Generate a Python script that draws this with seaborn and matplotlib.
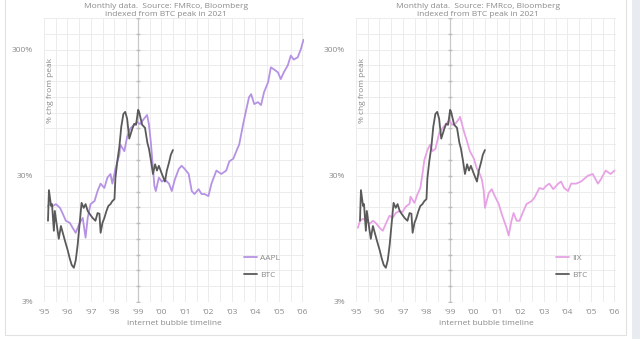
import numpy as np
import pandas as pd
import matplotlib
matplotlib.use("Agg")
import matplotlib.pyplot as plt
import seaborn as sns
from matplotlib.patches import Rectangle

# ---------------- data ----------------
btc_year = [1995.17, 1995.21, 1995.30, 1995.34, 1995.42, 1995.46, 1995.55, 1995.63, 1995.72, 1995.80,
            1995.89, 1996.01, 1996.10, 1996.18, 1996.27, 1996.35, 1996.43, 1996.52, 1996.60, 1996.69,
            1996.77, 1996.86, 1996.94, 1997.07, 1997.19, 1997.28, 1997.36, 1997.41, 1997.49, 1997.57,
            1997.66, 1997.74, 1997.83, 1997.91, 1998.00, 1998.04, 1998.12, 1998.21, 1998.29, 1998.38,
            1998.46, 1998.54, 1998.63, 1998.76, 1998.84, 1998.92, 1999.01, 1999.05, 1999.18, 1999.30,
            1999.40, 1999.47, 1999.55, 1999.64, 1999.73, 1999.81, 1999.89, 2000.02, 2000.15, 2000.23,
            2000.32, 2000.40, 2000.49]
btc_val = [13.2, 23.1, 17.3, 17.9, 11.0, 15.8, 12.0, 9.5, 12.0, 10.6,
           9.2, 7.7, 6.6, 5.9, 5.6, 6.4, 8.4, 12.7, 18.3, 16.7,
           17.9, 15.8, 15.0, 13.9, 13.2, 15.2, 15.0, 10.6, 12.7, 13.9,
           15.8, 17.3, 17.9, 18.9, 19.6, 28.7, 39.0, 51.1, 73.3, 92.7,
           96.2, 84.7, 59.1, 70.7, 77.4, 76.0, 100.0, 96.0, 76.0, 72.0,
           55.0, 49.0, 40.0, 31.0, 37.0, 33.0, 36.0, 31.0, 27.0, 33.0,
           38.0, 44.0, 48.0]

aapl_year = [1995.17, 1995.25, 1995.38, 1995.51, 1995.68, 1995.80, 1995.93, 1996.10, 1996.22, 1996.35,
             1996.52, 1996.65, 1996.77, 1996.86, 1996.98, 1997.15, 1997.28, 1997.41, 1997.57, 1997.70,
             1997.83, 1997.91, 1998.04, 1998.21, 1998.25, 1998.42, 1998.54, 1998.67, 1998.84, 1998.97,
             1999.09, 1999.26, 1999.39, 1999.47, 1999.55, 1999.62, 1999.70, 1999.76, 1999.89, 2000.02,
             2000.15, 2000.32, 2000.44, 2000.57, 2000.74, 2000.86, 2000.99, 2001.16, 2001.29, 2001.41,
             2001.58, 2001.71, 2001.84, 2002.00, 2002.13, 2002.34, 2002.55, 2002.76, 2002.89, 2003.06,
             2003.19, 2003.31, 2003.48, 2003.61, 2003.73, 2003.82, 2003.95, 2004.11, 2004.24, 2004.37,
             2004.54, 2004.66, 2004.79, 2004.96, 2005.08, 2005.21, 2005.38, 2005.51, 2005.63, 2005.80,
             2005.93, 2006.05]
aapl_val = [17.3, 17.9, 17.3, 17.9, 16.7, 15.0, 13.2, 12.7, 11.6, 10.6,
            12.7, 13.9, 9.7, 13.9, 17.9, 18.9, 22.7, 26.0, 24.0, 29.0,
            31.0, 26.0, 34.0, 44.0, 53.0, 47.0, 61.0, 71.0, 76.0, 80.0,
            77.0, 85.0, 91.0, 76.0, 55.0, 38.0, 25.0, 22.7, 29.0, 27.0,
            28.0, 26.0, 22.7, 28.0, 34.0, 36.0, 34.0, 31.0, 22.7, 21.5,
            23.5, 21.5, 21.5, 20.7, 26.0, 33.0, 31.0, 33.0, 39.0, 41.0,
            47.0, 53.0, 77.0, 100.0, 126.0, 133.0, 111.0, 115.0, 109.0, 138.0,
            165.0, 217.0, 209.0, 198.0, 175.0, 198.0, 225.0, 269.0, 250.0, 260.0,
            300.0, 359.0]

iix_year = [1995.08, 1995.17, 1995.30, 1995.42, 1995.59, 1995.72, 1995.84, 1996.01, 1996.14, 1996.27,
            1996.43, 1996.56, 1996.69, 1996.86, 1996.98, 1997.11, 1997.28, 1997.32, 1997.49, 1997.62,
            1997.74, 1997.83, 1997.91, 1998.04, 1998.16, 1998.25, 1998.38, 1998.54, 1998.67, 1998.80,
            1998.97, 1999.09, 1999.22, 1999.39, 1999.43, 1999.60, 1999.73, 1999.85, 2000.02, 2000.15,
            2000.27, 2000.36, 2000.44, 2000.49, 2000.65, 2000.78, 2000.91, 2001.08, 2001.20, 2001.41,
            2001.50, 2001.62, 2001.71, 2001.84, 2001.96, 2002.13, 2002.26, 2002.47, 2002.59, 2002.81,
            2002.97, 2003.10, 2003.23, 2003.40, 2003.61, 2003.73, 2003.86, 2004.03, 2004.16, 2004.37,
            2004.58, 2004.87, 2005.08, 2005.30, 2005.42, 2005.63, 2005.84, 2006.01]
iix_val = [11.6, 13.2, 13.7, 13.2, 12.5, 13.2, 12.7, 11.6, 11.0, 12.5,
           14.5, 13.9, 15.2, 15.8, 15.5, 17.0, 18.0, 20.5, 18.3, 21.5,
           24.0, 31.0, 40.0, 48.0, 53.0, 47.0, 49.0, 65.0, 71.0, 76.0,
           83.0, 76.0, 77.0, 85.0, 88.0, 67.0, 56.0, 47.0, 41.0, 34.0,
           31.0, 28.0, 22.7, 16.7, 21.9, 23.5, 20.7, 17.9, 15.0, 11.6,
           10.1, 13.2, 15.2, 13.2, 13.2, 15.8, 17.9, 18.9, 20.0, 24.0,
           23.5, 25.0, 26.0, 23.5, 26.0, 27.0, 24.0, 22.7, 26.0, 26.0,
           27.0, 30.0, 31.0, 26.0, 28.0, 33.0, 31.0, 33.0]

year_ticks = list(range(1995, 2007))
year_labels = ["'95", "'96", "'97", "'98", "'99", "'00", "'01", "'02", "'03", "'04", "'05", "'06"]
y_ticks = [3, 30, 300]
y_labels = ["3%", "30%", "300%"]

title_text = "Monthly data.  Source: FMRco, Bloomberg\nindexed from BTC peak in 2021"
xlabel_text = "internet bubble timeline"
ylabel_text = "% chg from peak"

# ---------------- style ----------------
sns.set_theme(style="white")
plt.rcParams["font.family"] = ["Open Sans", "DejaVu Sans"]
TXT = "#8a8a8a"
GRID = "#ececec"
colors = {"AAPL": "#b592e3", "IIX": "#e7a2e6", "BTC": "#5a5a5a"}

W, H = 640, 339
fig = plt.figure(figsize=(W / 100, H / 100), dpi=100)
fig.patch.set_facecolor("white")

# page decorations (frame + side strip)
fig.add_artist(Rectangle((5 / W, 4 / H), 621 / W, 400 / H, transform=fig.transFigure,
                         fill=False, edgecolor="#e2e2e2", lw=0.8))
fig.add_artist(Rectangle((632 / W, 0), 8 / W, 1, transform=fig.transFigure,
                         facecolor="#e8ecf0", edgecolor="none"))

bottom_px, top_px = 302, 18
panels = [
    (44, "AAPL", aapl_year, aapl_val),
    (356, "IIX", iix_year, iix_val),
]

btc_peak_year = btc_year[int(np.argmax(btc_val))]
ymin, ymax = 3, 3 * 10 ** ((bottom_px - top_px) / 127.5)
minor_y = [3 * 10 ** (k / 8) for k in range(0, 19)]

for left_px, name, yrs, vals in panels:
    ax = fig.add_axes([left_px / W, (H - bottom_px) / H, 260 / W, (bottom_px - top_px) / H])
    df = pd.concat([
        pd.DataFrame({"year": yrs, "value": vals, "series": name}),
        pd.DataFrame({"year": btc_year, "value": btc_val, "series": "BTC"}),
    ], ignore_index=True)
    sns.lineplot(data=df, x="year", y="value", hue="series", hue_order=[name, "BTC"],
                 palette=colors, lw=1.3, ax=ax, sort=False, estimator=None)
    ax.set_yscale("log")
    ax.set_ylim(ymin, ymax)
    ax.set_xlim(1995.08, 2006.07)

    ax.set_xticks(year_ticks)
    ax.set_xticklabels(year_labels)
    ax.set_xticks([y + 0.5 for y in year_ticks[:-1]], minor=True)
    ax.set_yticks(y_ticks)
    ax.set_yticklabels(y_labels)
    ax.set_yticks(minor_y, minor=True)
    ax.yaxis.set_minor_formatter(matplotlib.ticker.NullFormatter())
    ax.tick_params(axis="both", which="both", length=0, labelsize=6, colors=TXT)
    ax.tick_params(axis="x", pad=5)
    ax.tick_params(axis="y", pad=8)
    ax.grid(True, which="both", color=GRID, lw=0.7)
    ax.set_axisbelow(True)
    for s in ax.spines.values():
        s.set_visible(False)

    # reference line at the BTC peak, with small tick marks
    ax.axvline(btc_peak_year, color="#c8c8c8", lw=0.9, zorder=1)
    ax.plot([btc_peak_year] * len(minor_y), minor_y, ls="none", marker="_",
            ms=3, color="#bdbdbd", zorder=1)

    ax.set_xlabel(xlabel_text, fontsize=6, color=TXT, labelpad=3)
    ax.set_ylabel("")
    ax.text(0.025, 0.86, ylabel_text, transform=ax.transAxes, rotation=90,
            fontsize=6, color=TXT, ha="center", va="top")
    ax.set_title(title_text, fontsize=6.0, color=TXT, x=0.47, y=1.0, pad=1.5, linespacing=1.25)

    leg = ax.legend(loc="lower left", bbox_to_anchor=(0.74, 0.055), frameon=False,
                    fontsize=6, handlelength=1.6, handletextpad=0.3, labelspacing=1.1)
    for t in leg.get_texts():
        t.set_color(TXT)
    for l in leg.get_lines():
        l.set_linewidth(1.3)

fig.savefig("out.png", dpi=100, facecolor="white")
